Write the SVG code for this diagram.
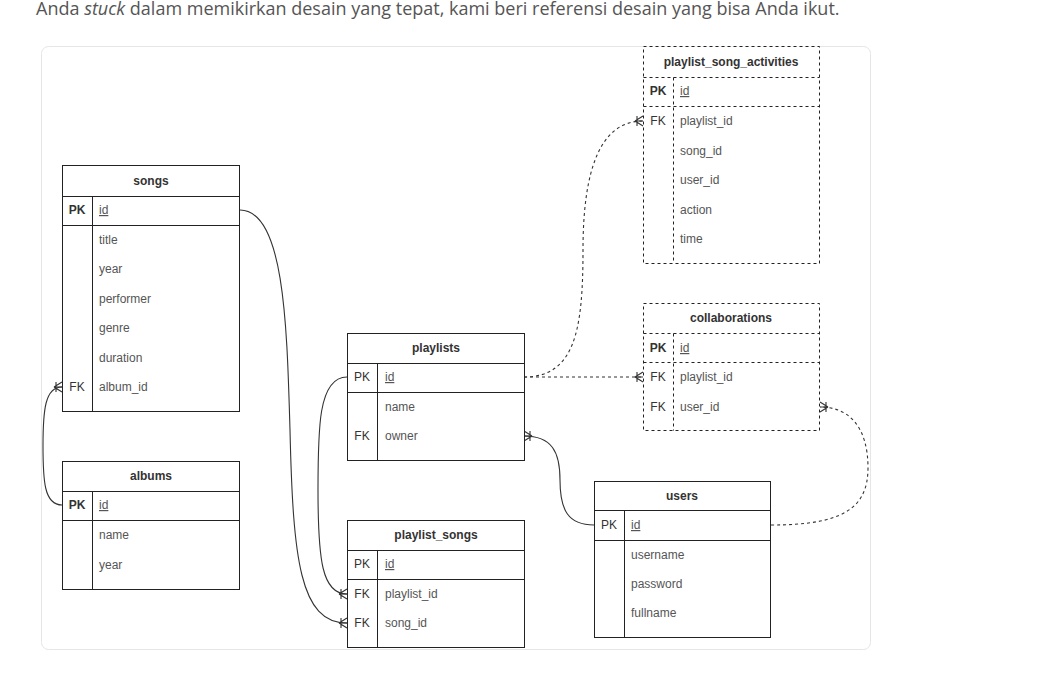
<svg xmlns="http://www.w3.org/2000/svg" width="1050" height="675" viewBox="0 0 1050 675">
<style>
.tb{fill:#fff;stroke:#222;stroke-width:1}
.ln{stroke:#222;stroke-width:1;fill:none}
.dtb{fill:#fff;stroke:#222;stroke-width:1;stroke-dasharray:3 3}
.dln{stroke:#222;stroke-width:1;fill:none;stroke-dasharray:3 3}
.ttl{font-family:"Liberation Sans",Arial,sans-serif;font-size:12px;font-weight:bold;fill:#333;text-anchor:middle}
.fld{font-family:"Liberation Sans",Arial,sans-serif;font-size:12px;fill:#555}
.key{font-family:"Liberation Sans",Arial,sans-serif;font-size:12px;fill:#333;text-anchor:middle}
.bk{font-weight:bold}
.u{text-decoration:underline}
.con{fill:none;stroke:#333;stroke-width:1.1}
.dcon{fill:none;stroke:#333;stroke-width:1.1;stroke-dasharray:3 3}
</style>
<defs>
<marker id="many" markerUnits="userSpaceOnUse" markerWidth="14" markerHeight="14" viewBox="-11 -7 14 14" refX="0" refY="0" orient="auto-start-reverse">
<path d="M-8,0 L0,-5 M-8,0 L0,5 M-8,0 L0,0 M-6,-5 L-6,5" fill="none" stroke="#333" stroke-width="1.1"/>
</marker>
</defs>
<rect x="0" y="0" width="1050" height="675" fill="#fff"/>
<text x="36" y="15" font-family="'Open Sans','Noto Sans',sans-serif" font-size="18" fill="#555">Anda <tspan font-style="italic">stuck</tspan> dalam memikirkan desain yang tepat, kami beri referensi desain yang bisa Anda ikut.</text>
<rect x="41.5" y="46.5" width="829" height="603" rx="7" fill="#fff" stroke="#e6e6e6"/>

<g id="connectors">
<path class="con" d="M240,210 C285,210 287,330 290,430 C293,560 300,623 347,623" marker-end="url(#many)"/>
<path class="con" d="M347,377 C318,377 318,430 318,490 C318,560 322,594 347,594" marker-end="url(#many)"/>
<path class="con" d="M62,505 C44,505 43,480 43,446 C43,410 45,387 62,387" marker-end="url(#many)"/>
<path class="con" d="M524,436 C552,436 560,452 560,480 C560,510 568,525 594,525" marker-start="url(#many)"/>
<path class="dcon" d="M524,377 C575,377 583,330 583,250 C583,170 600,121 643,121" marker-end="url(#many)"/>
<path class="dcon" d="M524,377 L643,377" marker-end="url(#many)"/>
<path class="dcon" d="M771,525 C840,525 868,510 868,468 C868,428 850,407 820,407" marker-end="url(#many)"/>
</g>

<g id="songs">
<rect class="tb" x="62.5" y="165.5" width="177" height="246"/>
<path class="ln" d="M62.5,196.5 H239.5 M62.5,225.5 H239.5 M92.5,196.5 V411.5"/>
<text class="ttl" x="151" y="185">songs</text>
<text class="key bk" x="77" y="214">PK</text>
<text class="fld u" x="99" y="214">id</text>
<text class="fld" x="99" y="244">title</text>
<text class="fld" x="99" y="273">year</text>
<text class="fld" x="99" y="303">performer</text>
<text class="fld" x="99" y="332">genre</text>
<text class="fld" x="99" y="362">duration</text>
<text class="key" x="77" y="391">FK</text>
<text class="fld" x="99" y="391">album_id</text>
</g>

<g id="albums">
<rect class="tb" x="62.5" y="461.5" width="177" height="128"/>
<path class="ln" d="M62.5,491.5 H239.5 M62.5,520.5 H239.5 M92.5,491.5 V589.5"/>
<text class="ttl" x="151" y="480">albums</text>
<text class="key bk" x="77" y="509">PK</text>
<text class="fld u" x="99" y="509">id</text>
<text class="fld" x="99" y="539">name</text>
<text class="fld" x="99" y="569">year</text>
</g>

<g id="playlists">
<rect class="tb" x="347.5" y="333.5" width="177" height="127"/>
<path class="ln" d="M347.5,363.5 H524.5 M347.5,392.5 H524.5 M377.5,363.5 V460.5"/>
<text class="ttl" x="436" y="352">playlists</text>
<text class="key" x="362" y="381">PK</text>
<text class="fld u" x="385" y="381">id</text>
<text class="fld" x="385" y="411">name</text>
<text class="key" x="362" y="440">FK</text>
<text class="fld" x="385" y="440">owner</text>
</g>

<g id="playlist_songs">
<rect class="tb" x="347.5" y="520.5" width="177" height="127"/>
<path class="ln" d="M347.5,550.5 H524.5 M347.5,579.5 H524.5 M377.5,550.5 V647.5"/>
<text class="ttl" x="436" y="539">playlist_songs</text>
<text class="key" x="362" y="568">PK</text>
<text class="fld u" x="385" y="568">id</text>
<text class="key" x="362" y="598">FK</text>
<text class="fld" x="385" y="598">playlist_id</text>
<text class="key" x="362" y="627">FK</text>
<text class="fld" x="385" y="627">song_id</text>
</g>

<g id="users">
<rect class="tb" x="594.5" y="481.5" width="176" height="156"/>
<path class="ln" d="M594.5,510.5 H770.5 M594.5,540.5 H770.5 M624.5,510.5 V637.5"/>
<text class="ttl" x="682" y="500">users</text>
<text class="key" x="609" y="529">PK</text>
<text class="fld u" x="631" y="529">id</text>
<text class="fld" x="631" y="559">username</text>
<text class="fld" x="631" y="588">password</text>
<text class="fld" x="631" y="617">fullname</text>
</g>

<g id="playlist_song_activities">
<rect class="dtb" x="643.5" y="46.5" width="176" height="217"/>
<path class="dln" d="M643.5,77.5 H819.5 M643.5,106.5 H819.5 M673.5,77.5 V263.5"/>
<text class="ttl" x="731" y="66">playlist_song_activities</text>
<text class="key bk" x="658" y="95">PK</text>
<text class="fld u" x="680" y="95">id</text>
<text class="key" x="658" y="125">FK</text>
<text class="fld" x="680" y="125">playlist_id</text>
<text class="fld" x="680" y="155">song_id</text>
<text class="fld" x="680" y="184">user_id</text>
<text class="fld" x="680" y="214">action</text>
<text class="fld" x="680" y="243">time</text>
</g>

<g id="collaborations">
<rect class="dtb" x="643.5" y="303.5" width="176" height="127"/>
<path class="dln" d="M643.5,333.5 H819.5 M643.5,362.5 H819.5 M673.5,333.5 V430.5"/>
<text class="ttl" x="731" y="322">collaborations</text>
<text class="key bk" x="658" y="352">PK</text>
<text class="fld u" x="680" y="352">id</text>
<text class="key" x="658" y="381">FK</text>
<text class="fld" x="680" y="381">playlist_id</text>
<text class="key" x="658" y="411">FK</text>
<text class="fld" x="680" y="411">user_id</text>
</g>
</svg>
